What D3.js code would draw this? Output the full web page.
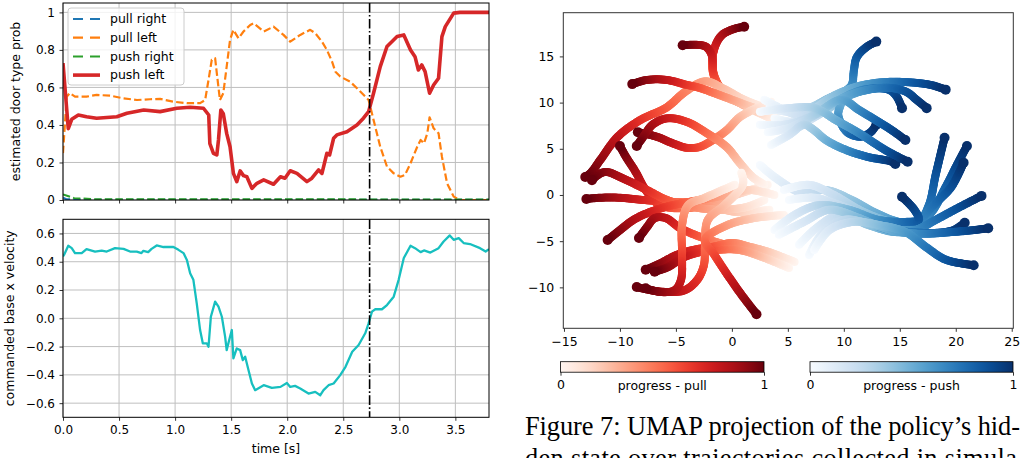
<!DOCTYPE html>
<html>
<head>
<meta charset="utf-8">
<script src="https://cdn.jsdelivr.net/npm/d3@7"></script>
<style>
body { margin: 0; background: #fff; }
svg { display: block; }
</style>
</head>
<body>
<svg id="fig" width="1020" height="458"></svg>
<script>
// ---------- data: left panels ----------
var timeTicks = [0, 0.5, 1.0, 1.5, 2.0, 2.5, 3.0, 3.5];
var probTicks = [0, 0.2, 0.4, 0.6, 0.8, 1];
var velTicks = [-0.6, -0.4, -0.2, 0, 0.2, 0.4, 0.6];
var switchTime = 2.735;

var seriesNames = ['pull right', 'pull left', 'push right', 'push left'];

var pullRight = [[0, 0.012], [0.03, 0.004], [0.2, 0.002], [3.8, 0.002]];
var pushRight = [[0, 0.03], [0.05, 0.02], [0.1, 0.01], [0.3, 0.004], [3.8, 0.003]];
var pullLeft = [[0,0.25],[0.033,0.55],[0.06,0.57],[0.107,0.551],[0.21,0.551],[0.30,0.56],[0.42,0.556],[0.54,0.542],
  [0.66,0.533],[0.777,0.537],[0.866,0.539],[0.985,0.524],[1.105,0.516],[1.223,0.516],[1.268,0.533],[1.298,0.64],
  [1.327,0.747],[1.357,0.756],[1.372,0.676],[1.40,0.533],[1.43,0.569],[1.46,0.711],[1.49,0.853],[1.52,0.907],
  [1.565,0.862],[1.61,0.898],[1.67,0.933],[1.70,0.942],[1.79,0.898],[1.878,0.924],[1.967,0.88],[2.027,0.844],
  [2.116,0.88],[2.205,0.907],[2.25,0.889],[2.31,0.844],[2.354,0.80],[2.40,0.738],[2.43,0.684],[2.473,0.658],
  [2.56,0.631],[2.622,0.596],[2.726,0.533],[2.77,0.427],[2.83,0.284],[2.89,0.178],[2.95,0.142],[3.01,0.124],
  [3.05,0.133],[3.10,0.196],[3.16,0.284],[3.19,0.32],[3.22,0.302],[3.25,0.356],[3.27,0.441],[3.306,0.382],
  [3.35,0.356],[3.38,0.231],[3.426,0.089],[3.485,0.018],[3.54,0.0],[3.8,0.0]];
var pushLeft = [[0,0.73],[0.047,0.38],[0.078,0.43],[0.137,0.453],[0.21,0.444],[0.30,0.436],[0.48,0.444],[0.57,0.462],
  [0.72,0.48],[0.866,0.471],[1.015,0.489],[1.134,0.494],[1.253,0.489],[1.30,0.453],[1.31,0.30],[1.342,0.249],
  [1.372,0.24],[1.387,0.32],[1.408,0.48],[1.43,0.46],[1.46,0.355],[1.49,0.284],[1.52,0.142],[1.55,0.098],
  [1.58,0.155],[1.61,0.13],[1.64,0.124],[1.685,0.062],[1.73,0.089],[1.79,0.107],[1.878,0.084],[1.94,0.124],
  [1.98,0.116],[2.027,0.156],[2.087,0.142],[2.176,0.098],[2.22,0.116],[2.28,0.16],[2.31,0.142],[2.354,0.249],
  [2.378,0.24],[2.414,0.329],[2.443,0.347],[2.533,0.364],[2.622,0.40],[2.68,0.436],[2.726,0.471],[2.77,0.569],
  [2.83,0.711],[2.89,0.818],[2.98,0.871],[3.04,0.88],[3.1,0.80],[3.14,0.764],[3.17,0.693],[3.20,0.72],
  [3.23,0.684],[3.27,0.569],[3.306,0.613],[3.35,0.649],[3.38,0.871],[3.41,0.924],[3.485,0.996],[3.54,1.0],[3.8,1.0]];
var velocity = [[0,0.437],[0.01,0.45],[0.047,0.513],[0.078,0.496],[0.107,0.461],[0.167,0.461],[0.21,0.489],
  [0.286,0.472],[0.345,0.479],[0.39,0.472],[0.464,0.496],[0.54,0.491],[0.598,0.472],[0.658,0.472],[0.70,0.461],
  [0.717,0.477],[0.76,0.468],[0.79,0.491],[0.836,0.515],[0.896,0.504],[0.985,0.504],[1.03,0.484],[1.075,0.461],
  [1.105,0.413],[1.134,0.319],[1.163,0.272],[1.193,0.106],[1.223,-0.083],[1.247,-0.177],[1.283,-0.177],
  [1.298,-0.201],[1.319,0.011],[1.357,0.118],[1.387,0.082],[1.417,0.011],[1.446,-0.13],[1.46,-0.225],[1.49,-0.13],
  [1.506,-0.083],[1.52,-0.284],[1.55,-0.213],[1.58,-0.225],[1.604,-0.296],[1.625,-0.272],[1.655,-0.367],
  [1.685,-0.461],[1.714,-0.508],[1.79,-0.473],[1.863,-0.492],[1.94,-0.485],[1.997,-0.457],[2.027,-0.485],
  [2.07,-0.478],[2.116,-0.496],[2.19,-0.532],[2.25,-0.52],[2.295,-0.544],[2.324,-0.508],[2.369,-0.473],
  [2.414,-0.461],[2.473,-0.402],[2.52,-0.343],[2.58,-0.237],[2.637,-0.189],[2.696,-0.106],[2.726,-0.035],
  [2.756,0.047],[2.786,0.064],[2.845,0.064],[2.89,0.094],[2.95,0.153],[2.994,0.272],[3.04,0.426],[3.10,0.513],
  [3.14,0.496],[3.19,0.468],[3.22,0.48],[3.277,0.465],[3.35,0.496],[3.395,0.543],[3.45,0.586],[3.485,0.555],
  [3.53,0.567],[3.574,0.532],[3.63,0.525],[3.72,0.496],[3.77,0.472],[3.8,0.489]];

// ---------- data: UMAP trajectories (start -> end, progress 0 -> 1) ----------
var umapXTicks = [-15, -10, -5, 0, 5, 10, 15, 20, 25];
var umapYTicks = [-10, -5, 0, 5, 10, 15];

var pullTrajectories = [
  [[3.2,8.66],[1.1,10.1],[-0.9,11.4],[-1.7,13.3],[-1.6,15.7],[-0.9,17.3],[0.25,18.0],[1.1,18.2]],
  [[3.8,8.1],[1.6,9.4],[-0.65,11.0],[-1.6,13.0],[-1.8,15.15],[-2.4,16.1],[-4.4,16.2]],
  [[3.5,9.2],[1.1,10.3],[-0.9,11.6],[-2.4,12.3],[-4.2,11.15],[-5.8,9.5],[-8.2,8.1],[-10.2,6.3],[-11.75,3.8],[-12.6,2.4],[-13.1,1.95]],
  [[4.0,9.0],[1.84,9.5],[0.25,10.2],[-1.3,10.9],[-2.9,11.6],[-4.0,11.9],[-5.8,12.45],[-7.6,12.45],[-8.9,12.0]],
  [[3.5,10.1],[1.84,9.2],[0.68,8.4],[-0.47,7.0],[-1.7,5.95],[-2.9,5.2],[-4.0,5.1],[-5.3,5.6],[-6.7,6.3],[-8.4,6.8]],
  [[3.2,1.1],[1.1,0.32],[-1.1,-0.54],[-3.8,-1.4],[-6.4,-1.1],[-7.7,0.54],[-8.6,2.5],[-9.4,4.0],[-10.0,5.3]],
  [[2.9,1.1],[1.84,1.95],[0.68,3.5],[-0.47,5.2],[-2.25,6.7],[-4.0,7.9],[-5.8,8.3],[-7.1,7.6],[-7.8,6.5],[-8.5,5.3]],
  [[3.35,-1.6],[1.57,-1.84],[0.4,-1.84],[-1.4,-1.4],[-3.5,-0.87],[-5.5,-0.76],[-7.9,-0.54],[-10.0,-0.3],[-11.75,-0.3],[-13.0,-0.43]],
  [[2.9,-0.54],[1.3,-1.3],[-1.1,-1.6],[-3.5,-1.3],[-5.8,-0.54],[-7.6,0.54],[-9.4,1.6],[-11.3,2.5],[-12.1,2.05],[-12.5,1.6]],
  [[3.8,0],[1.57,0.54],[-0.47,0],[-2.9,-0.54],[-5.3,-1.1],[-7.3,-1.84],[-8.8,-2.7],[-10.0,-3.8],[-11.1,-4.87]],
  [[4.2,-6.8],[1.57,-5.95],[-1.1,-5.2],[-2.9,-4.5],[-4.6,-3.6],[-5.9,-2.5],[-6.9,-2.5],[-7.6,-3.5],[-8.3,-4.65]],
  [[5.6,-7.25],[3.35,-6.2],[1.57,-5.6],[0.06,-5.2],[-1.7,-5.6],[-3.5,-5.95],[-4.95,-6.5],[-6.4,-7.4],[-7.7,-8.1]],
  [[5.1,-7.9],[2.9,-6.8],[0.68,-5.95],[-1.4,-5.95],[-2.9,-6.2],[-4.4,-6.8],[-5.7,-7.8],[-6.9,-8.3]],
  [[0.84,2.4],[1.0,1.2],[-0.65,-1.1],[-2.15,-2.7],[-2.4,-5.4],[-2.5,-7.6],[-3.1,-9.2],[-4.2,-10.3],[-5.7,-10.5],[-7.3,-10.3],[-8.5,-9.96]],
  [[0.25,1.1],[-2.4,-0.3],[-3.9,-1.1],[-4.45,-3.25],[-4.45,-6.5],[-4.55,-9.2],[-5.1,-10.3],[-6.4,-10.5],[-7.7,-10.1]],
  [[4.65,-2.16],[2.0,-2.5],[-0.38,-3.25],[-2.4,-4.87],[-1.55,-6.5],[-0.38,-8.66],[0.86,-10.8],[2.2,-12.9]]
];

var pushTrajectories = [
  [[3.35,9.4],[5.1,9.0],[6.9,9.4],[8.7,10.5],[10.0,11.15],[10.7,11.9],[10.9,13.5],[11.15,14.9],[12.0,16.0],[12.9,16.6]],
  [[2.9,10.3],[4.65,9.2],[6.0,8.66],[7.2,9.2],[8.9,10.6],[11.1,11.7],[13.4,12.2],[15.8,12.2],[17.8,11.9],[19.1,11.4]],
  [[3.8,8.3],[5.6,7.9],[7.4,8.66],[9.6,10.3],[11.8,11.4],[14.0,11.4],[14.7,10.7],[15.2,9.4]],
  [[2.5,7.6],[4.65,7.6],[6.9,8.4],[9.1,9.96],[11.35,11.15],[14.0,11.6],[15.6,11.15],[16.5,10.3],[17.4,9.4]],
  [[5.1,7.0],[6.9,8.1],[8.7,9.4],[9.8,10.3],[9.5,8.66],[10.3,6.8],[11.5,6.3],[12.4,6.8],[12.9,7.6]],
  [[3.2,6.8],[5.1,7.25],[7.4,8.66],[9.8,10.3],[11.35,9.2],[12.85,8.1],[14.3,7.0],[15.5,5.95]],
  [[3.5,5.4],[5.1,6.5],[6.45,7.6],[7.35,7.0],[8.4,5.95],[10.2,4.87],[12.2,4.1],[14.3,3.6],[14.6,3.35]],
  [[2.5,9.0],[5.1,9.4],[7.4,9.4],[9.3,8.1],[11.35,6.7],[13.7,4.87],[15.7,3.6]],
  [[2.5,3.25],[4.2,1.6],[6.3,0.22],[8.4,0.54],[10.7,-0.54],[12.85,-1.95],[14.9,-2.9],[16.7,-2.9],[17.6,-1.1],[18.2,2.16],[19.0,6.2]],
  [[4.65,0.54],[6.9,1.1],[9.1,0],[11.35,-1.6],[13.55,-2.7],[15.8,-3.25],[17.6,-2.16],[19.1,0.87],[20.1,3.25],[21.0,5.3]],
  [[5.1,-0.54],[7.35,-0.3],[9.6,-1.1],[11.8,-2.16],[14.3,-3.25],[16.2,-3.25],[18.0,-1.1],[19.6,0.87],[20.7,3.5]],
  [[3.8,-3.8],[5.6,-2.16],[7.8,-1.1],[10.45,-1.6],[13.1,-2.7],[15.8,-2.9],[16.7,-2.7],[16.3,-1.6],[15.2,-0.2]],
  [[6.0,-5.4],[7.35,-3.8],[9.6,-2.16],[12.2,-3.25],[14.45,-4.0],[16.4,-3.8],[18.2,-2.7],[20.2,-1.4],[22.3,-0.1]],
  [[4.2,-4.3],[6.45,-2.9],[8.7,-1.6],[11.35,-2.5],[13.55,-3.6],[15.8,-4.0],[18.2,-4.1],[19.8,-3.8],[20.8,-3.0]],
  [[6.9,-6.5],[8.0,-4.3],[10.0,-2.7],[12.7,-3.25],[14.9,-4.0],[17.1,-4.2],[19.8,-4.0],[21.6,-3.8],[22.9,-3.6]],
  [[7.35,-5.95],[8.7,-3.8],[10.9,-2.9],[13.1,-3.25],[15.5,-4.0],[17.3,-5.6],[19.1,-7.0],[21.6,-7.6]]
];

var colorbarTicks = [0, 1];

// ---------- setup ----------
var FONT = 'DejaVu Sans';
var svg = d3.select('#fig');
var defs = svg.append('defs');

var x = d3.scaleLinear().domain([0, 3.8]).range([63, 489]);
var yProb = d3.scaleLinear().domain([0, 1.05]).range([200, 3]);
var yVel = d3.scaleLinear().domain([-0.7, 0.7]).range([417.3, 219.3]);

function styleAxis(g, size) {
    g.attr('font-family', FONT).attr('font-size', size || 12);
    g.select('.domain').remove();
    g.selectAll('.tick line').attr('stroke', '#000').attr('stroke-width', 0.8);
    g.selectAll('.tick text').attr('fill', '#000');
}

function addClip(id, x0, y0, w, h) {
    defs.append('clipPath').attr('id', id).append('rect')
        .attr('x', x0).attr('y', y0).attr('width', w).attr('height', h);
}

function drawPanel(yScale, yTicks, yFormat, clipId, showXLabels) {
    var y0 = yScale.range()[1], y1 = yScale.range()[0];
    var g = svg.append('g');
    addClip(clipId, x.range()[0], y0, x.range()[1] - x.range()[0], y1 - y0);

    // grid
    g.selectAll(null).data(timeTicks).join('line')
        .attr('x1', d => x(d)).attr('x2', d => x(d)).attr('y1', y0).attr('y2', y1)
        .attr('stroke', '#bfbfbf').attr('stroke-width', 1);
    g.selectAll(null).data(yTicks).join('line')
        .attr('x1', x.range()[0]).attr('x2', x.range()[1]).attr('y1', d => yScale(d)).attr('y2', d => yScale(d))
        .attr('stroke', '#bfbfbf').attr('stroke-width', 1);

    g.append('g').attr('transform', 'translate(' + x.range()[0] + ',0)')
        .call(d3.axisLeft(yScale).tickValues(yTicks).tickFormat(yFormat).tickSize(3.5).tickPadding(4.5).tickSizeOuter(0))
        .call(styleAxis);
    g.append('g').attr('transform', 'translate(0,' + y1 + ')')
        .call(d3.axisBottom(x).tickValues(timeTicks).tickFormat(showXLabels ? d3.format('.1f') : '')
            .tickSize(3.5).tickPadding(4.5).tickSizeOuter(0))
        .call(styleAxis);

    var plot = g.append('g').attr('clip-path', 'url(#' + clipId + ')');
    return {g: g, plot: plot, y0: y0, y1: y1};
}

function frame(g, x0, y0, x1, y1, color) {
    g.append('rect').attr('x', x0).attr('y', y0).attr('width', x1 - x0).attr('height', y1 - y0)
        .attr('fill', 'none').attr('stroke', color || '#000').attr('stroke-width', 1);
}

function switchLine(p) {
    p.plot.append('line')
        .attr('x1', x(switchTime)).attr('x2', x(switchTime)).attr('y1', p.y0).attr('y2', p.y1)
        .attr('stroke', '#000').attr('stroke-width', 1.6).attr('stroke-dasharray', '9.6,2.4,1.6,2.4');
}

// ---------- top panel ----------
var probFmt = function(d) { return d === 0 ? '0' : d === 1 ? '1' : d3.format('.1f')(d); };
var probPanel = drawPanel(yProb, probTicks, probFmt, 'clipTop', false);
var probLine = d3.line().x(d => x(d[0])).y(d => yProb(d[1]));

var probSeries = [
    {name: seriesNames[0], data: pullRight, color: '#1f77b4', width: 2, dash: '7.4,3.2'},
    {name: seriesNames[1], data: pullLeft, color: '#ff7f0e', width: 2.2, dash: '7.4,3.2'},
    {name: seriesNames[2], data: pushRight, color: '#2ca02c', width: 2, dash: '7.4,3.2'},
    {name: seriesNames[3], data: pushLeft, color: '#d62728', width: 3.6, dash: null}
];
probSeries.forEach(function(s) {
    probPanel.plot.append('path').attr('d', probLine(s.data)).attr('fill', 'none')
        .attr('stroke', s.color).attr('stroke-width', s.width)
        .attr('stroke-dasharray', s.dash).attr('stroke-linejoin', 'round');
});
switchLine(probPanel);
frame(probPanel.g, 63, 3, 489, 200);

// legend
var leg = svg.append('g').attr('font-family', FONT).attr('font-size', 12.5);
leg.append('rect').attr('x', 68).attr('y', 8).attr('width', 116).attr('height', 77).attr('rx', 3)
    .attr('fill', '#fff').attr('fill-opacity', 0.8).attr('stroke', '#cccccc').attr('stroke-width', 1);
probSeries.forEach(function(s, i) {
    var yy = 19 + i * 18.7;
    leg.append('line').attr('x1', 73).attr('x2', 100).attr('y1', yy).attr('y2', yy)
        .attr('stroke', s.color).attr('stroke-width', s.width).attr('stroke-dasharray', s.dash ? '10,7' : null);
    leg.append('text').attr('x', 110).attr('y', yy).attr('dy', '0.35em').attr('fill', '#000').text(s.name);
});

svg.append('text').attr('transform', 'translate(19.5,101.5) rotate(-90)').attr('text-anchor', 'middle')
    .attr('font-family', FONT).attr('font-size', 12.5).attr('fill', '#000').text('estimated door type prob');

// ---------- bottom panel ----------
var velPanel = drawPanel(yVel, velTicks, d3.format('.1f'), 'clipBottom', true);
velPanel.plot.append('path')
    .attr('d', d3.line().x(d => x(d[0])).y(d => yVel(d[1]))(velocity))
    .attr('fill', 'none').attr('stroke', '#17bfbf').attr('stroke-width', 2.3).attr('stroke-linejoin', 'round');
switchLine(velPanel);
frame(velPanel.g, 63, 219.3, 489, 417.3);

svg.append('text').attr('transform', 'translate(14,318.3) rotate(-90)').attr('text-anchor', 'middle')
    .attr('font-family', FONT).attr('font-size', 12.5).attr('fill', '#000').text('commanded base x velocity');
svg.append('text').attr('x', 276).attr('y', 453).attr('text-anchor', 'middle')
    .attr('font-family', FONT).attr('font-size', 12.5).attr('fill', '#000').text('time [s]');

// ---------- right: UMAP ----------
var ux = d3.scaleLinear().domain([-15.06, 25.14]).range([563.3, 1013.3]);
var uy = d3.scaleLinear().domain([-14.43, 19.73]).range([328.3, 12.7]);
addClip('clipUmap', 563.3, 12.7, 450, 315.6);

var umap = svg.append('g');
var trajLayer = umap.append('g').attr('clip-path', 'url(#clipUmap)');
var trajLine = d3.line().x(d => ux(d[0])).y(d => uy(d[1])).curve(d3.curveCatmullRom.alpha(0.5));

function drawTrajectory(pts, cmap) {
    var g = trajLayer.append('g');
    var path = g.append('path').attr('d', trajLine(pts)).attr('fill', 'none');
    var node = path.node(), len = node.getTotalLength();
    var n = Math.ceil(len / 1.2);
    var samples = d3.range(n + 1).map(function(i) {
        var q = node.getPointAtLength(len * i / n);
        return {x: q.x, y: q.y, f: i / n};
    });
    path.remove();
    g.selectAll(null).data(samples).join('circle')
        .attr('cx', d => d.x).attr('cy', d => d.y).attr('r', 4)
        .attr('fill', d => cmap(d.f));
    var last = samples[samples.length - 1];
    g.append('circle').attr('cx', last.x).attr('cy', last.y).attr('r', 5).attr('fill', cmap(1));
}

pullTrajectories.forEach(function(t) { drawTrajectory(t, d3.interpolateReds); });
pushTrajectories.forEach(function(t) { drawTrajectory(t, d3.interpolateBlues); });

umap.append('g').attr('transform', 'translate(563.3,0)')
    .call(d3.axisLeft(uy).tickValues(umapYTicks).tickSize(3.5).tickPadding(5.5).tickSizeOuter(0))
    .call(styleAxis, 12.5);
umap.append('g').attr('transform', 'translate(0,328.3)')
    .call(d3.axisBottom(ux).tickValues(umapXTicks).tickSize(3.5).tickPadding(5).tickSizeOuter(0))
    .call(styleAxis, 12.5);
frame(umap, 563.3, 12.7, 1013.3, 328.3, '#333');

// ---------- colorbars ----------
function colorbar(id, cmap, x0, x1, label) {
    var grad = defs.append('linearGradient').attr('id', id);
    d3.range(0, 1.0001, 0.05).forEach(function(t) {
        grad.append('stop').attr('offset', t).attr('stop-color', cmap(t));
    });
    var cx = d3.scaleLinear().domain([0, 1]).range([x0, x1]);
    var g = svg.append('g');
    g.append('rect').attr('x', x0).attr('y', 361.7).attr('width', x1 - x0).attr('height', 10.5)
        .attr('fill', 'url(#' + id + ')').attr('stroke', '#000').attr('stroke-width', 0.8);
    g.append('g').attr('transform', 'translate(0,372.2)')
        .call(d3.axisBottom(cx).tickValues(colorbarTicks).tickFormat(d3.format('d')).tickSize(3.5).tickPadding(4).tickSizeOuter(0))
        .call(styleAxis, 12.5);
    g.append('text').attr('x', (x0 + x1) / 2).attr('y', 390).attr('text-anchor', 'middle')
        .attr('font-family', FONT).attr('font-size', 12.5).attr('fill', '#000').text(label);
}
colorbar('gradReds', d3.interpolateReds, 560.5, 764, 'progress - pull');
colorbar('gradBlues', d3.interpolateBlues, 810, 1013, 'progress - push');

// ---------- caption (cut by the figure edge, as in the source page) ----------
var caption = svg.append('g').attr('font-family', 'Liberation Serif').attr('font-size', 26.4).attr('fill', '#000');
caption.append('text').attr('x', 525).attr('y', 435)
    .attr('textLength', 495).attr('lengthAdjust', 'spacing')
    .text('Figure 7: UMAP projection of the policy\u2019s hid-');
caption.append('text').attr('x', 525).attr('y', 467)
    .attr('textLength', 501).attr('lengthAdjust', 'spacing')
    .text('den state over trajectories collected in simula-');
</script>
</body>
</html>
